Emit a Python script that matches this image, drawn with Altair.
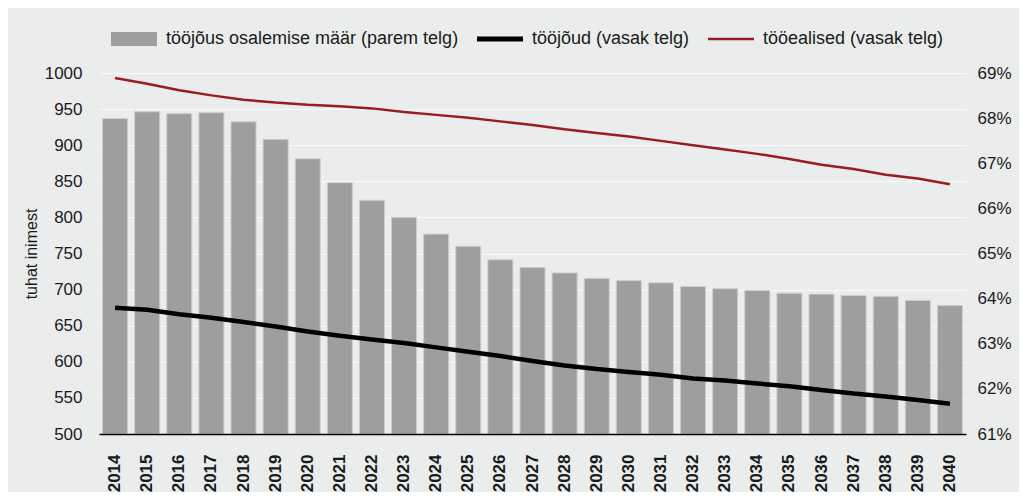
import altair as alt
import pandas as pd

years = ["2014", "2015", "2016", "2017", "2018", "2019", "2020", "2021", "2022",
         "2023", "2024", "2025", "2026", "2027", "2028", "2029", "2030", "2031",
         "2032", "2033", "2034", "2035", "2036", "2037", "2038", "2039", "2040"]
# tööjõus osalemise määr, % (right axis)
rate = [67.99, 68.14, 68.10, 68.12, 67.92, 67.53, 67.10, 66.57, 66.18, 65.80,
        65.43, 65.16, 64.86, 64.69, 64.57, 64.45, 64.40, 64.35, 64.27, 64.22,
        64.18, 64.12, 64.10, 64.07, 64.05, 63.96, 63.85]
# tööjõud, tuhat inimest (left axis)
workforce = [675, 672, 666, 661, 655, 649, 642, 636, 631, 626, 620, 614, 608,
             601, 595, 590, 586, 582, 577, 574, 570, 566, 561, 556, 552, 547, 542]
# tööealised, tuhat inimest (left axis)
working_age = [993, 985, 976, 969, 963, 959, 956, 954, 951, 946, 942, 938, 933,
               928, 922, 917, 912, 906, 900, 894, 888, 881, 873, 867, 859, 854, 846]

series_names = ["tööjõus osalemise määr (parem telg)", "tööjõud (vasak telg)",
                "tööealised (vasak telg)"]
series_colors = ["#9d9e9f", "#000000", "#9b1c20"]
legend_shapes = ["M-1,-0.3H1V0.3H-1Z", "M-1,-0.11H1V0.11H-1Z", "M-1,-0.055H1V0.055H-1Z"]

left_ticks = [500, 550, 600, 650, 700, 750, 800, 850, 900, 950, 1000]
right_ticks = [61, 62, 63, 64, 65, 66, 67, 68, 69]

FONT = "Liberation Sans"
TXT = "#1a1a1a"

df = pd.DataFrame({"aasta": years, "maar": rate, "toojoud": workforce,
                   "tooealised": working_age})
legend_df = pd.DataFrame({"seeria": series_names})

x_enc = alt.X(
    "aasta:N",
    sort=years,
    scale=alt.Scale(paddingInner=0.22, paddingOuter=0.11),
    axis=alt.Axis(title=None, labelAngle=-90, labelFontWeight="bold", labelFontSize=17,
                  labelPadding=20, ticks=False, domain=True, domainColor="#000000",
                  domainWidth=1.5, labelColor=TXT, grid=False, zindex=1),
)

bars = alt.Chart(df).mark_bar(color="#9d9e9f", stroke="#cdcecf", strokeWidth=1).encode(
    x=x_enc,
    y=alt.Y("maar:Q",
            scale=alt.Scale(domain=[61, 69], zero=False, nice=False),
            axis=alt.Axis(orient="right", values=right_ticks,
                          labelExpr="datum.value + '%'", title=None, grid=False,
                          domain=False, ticks=False, labelPadding=11, labelFontSize=17,
                          labelColor=TXT)),
    y2=alt.datum(61),
)

left_axis = alt.Axis(orient="left", values=left_ticks, format="d", title="tuhat inimest",
                     grid=True, gridColor="#f9f9f9", gridWidth=1, domain=False,
                     ticks=False, labelPadding=17, labelFontSize=17, labelColor=TXT,
                     titleFontSize=16, titleFontWeight="normal", titleColor=TXT,
                     titlePadding=5)
left_scale = alt.Scale(domain=[500, 1000], zero=False, nice=False)

line_w = alt.Chart(df).mark_line(color="#000000", strokeWidth=4.5).encode(
    x=x_enc, y=alt.Y("toojoud:Q", scale=left_scale, axis=left_axis))
line_a = alt.Chart(df).mark_line(color="#9b1c20", strokeWidth=2.5).encode(
    x=x_enc, y=alt.Y("tooealised:Q", scale=left_scale, axis=left_axis))

leg = alt.Legend(title=None, orient="none", legendX=12, legendY=-57,
                 direction="horizontal", columns=3, symbolSize=2116,
                 symbolStrokeWidth=0, labelFontSize=18, labelFont=FONT,
                 labelColor=TXT, labelOffset=9, columnPadding=18, padding=0,
                 labelLimit=0)

legend_layer = alt.Chart(legend_df).transform_filter("false").mark_point(
    filled=True, opacity=1).encode(
    color=alt.Color("seeria:N", scale=alt.Scale(domain=series_names, range=series_colors),
                    legend=leg),
    shape=alt.Shape("seeria:N", scale=alt.Scale(domain=series_names, range=legend_shapes),
                    legend=leg),
)

chart = alt.layer(bars, alt.layer(line_w, line_a), legend_layer).resolve_scale(
    y="independent"
).properties(
    width=867, height=361,
    background="#ebedec",
    padding={"left": 91, "top": 65, "right": 53, "bottom": 58},
    autosize=alt.AutoSizeParams(type="none"),
).configure_view(stroke=None).configure_axis(
    labelFont=FONT, titleFont=FONT
).configure_legend(labelFont=FONT)

chart.save("out.html", embed_options={"renderer": "svg", "actions": False})
